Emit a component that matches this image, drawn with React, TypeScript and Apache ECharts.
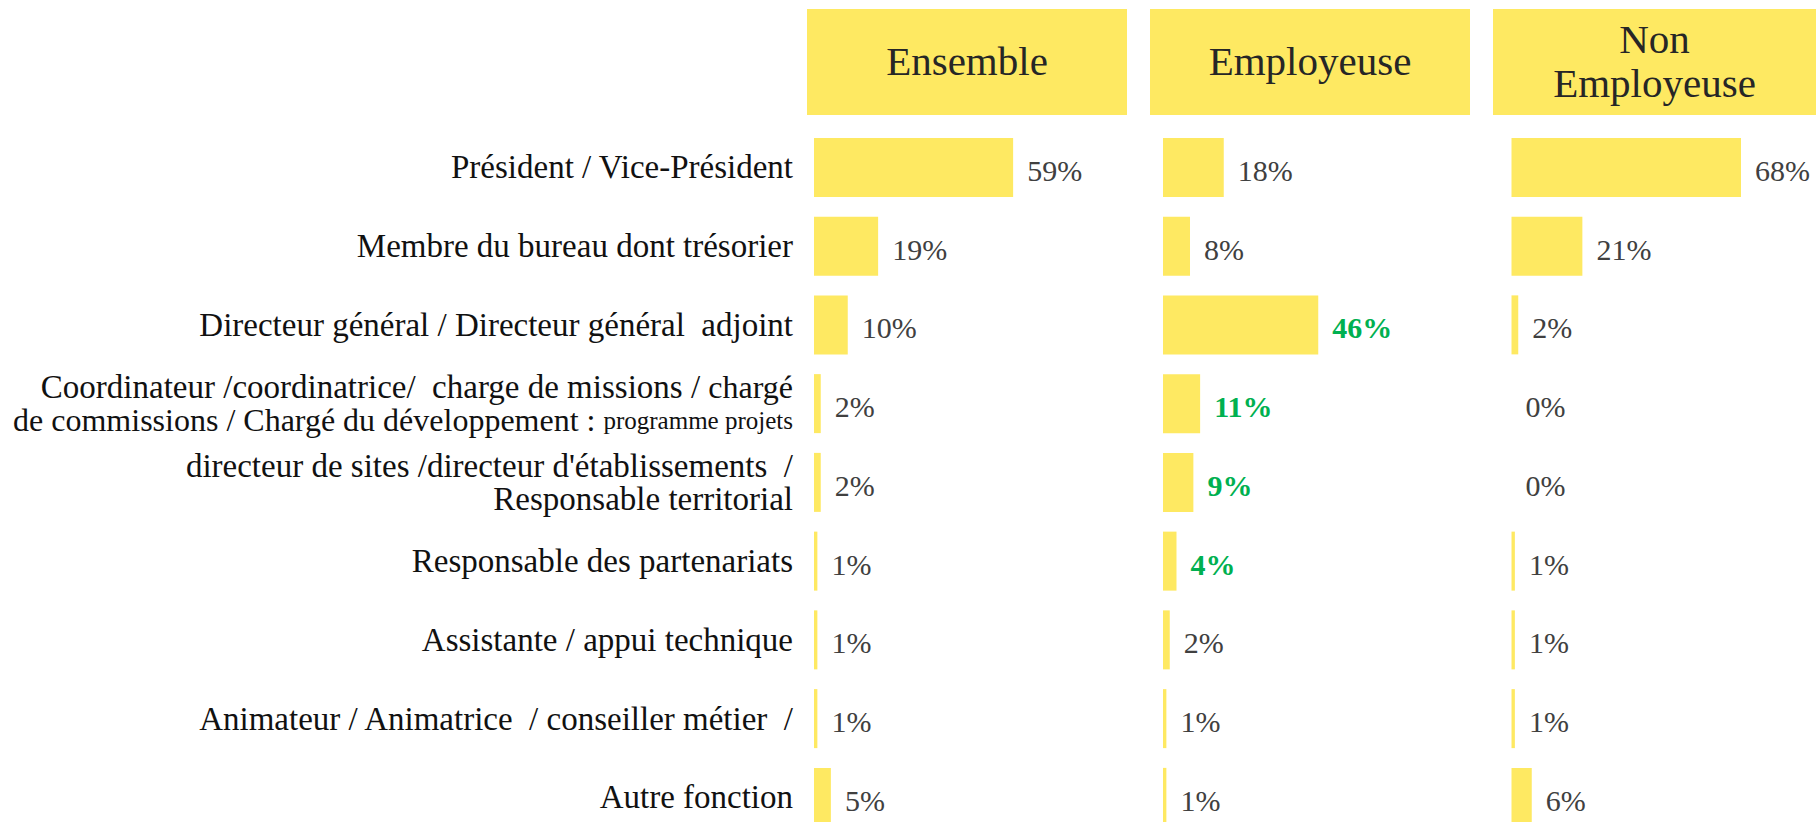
import React, { useEffect, useRef } from "react";
import * as echarts from "echarts";

const categories = [
  "Président / Vice-Président",
  "Membre du bureau dont trésorier",
  "Directeur général / Directeur général  adjoint",
  "Coordinateur /coordinatrice/  charge de missions / chargé\nde commissions / Chargé du développement : programme projets",
  "directeur de sites /directeur d'établissements  /\nResponsable territorial",
  "Responsable des partenariats",
  "Assistante / appui technique",
  "Animateur / Animatrice  / conseiller métier  /",
  "Autre fonction",
];
const groups = ["Ensemble", "Employeuse", "Non\nEmployeuse"];
const ensemble = [59, 19, 10, 2, 2, 1, 1, 1, 5];
const employeuse = [18, 8, 46, 11, 9, 4, 2, 1, 1];
const nonEmployeuse = [68, 21, 2, 0, 0, 1, 1, 1, 6];
const highlightEmployeuse = [false, false, true, true, true, true, false, false, false];

const YELLOW = "#FEE962";
const FONT = "Liberation Serif";

export default function App() {
  const ref = useRef<HTMLDivElement>(null);
  useEffect(() => {
    document.body.style.margin = "0";
    const chart = echarts.init(ref.current!, null, { renderer: "svg" });
    const gridLefts = [814, 1163, 1511.5];
    const boxes = [
      { x: 807, w: 320 },
      { x: 1150, w: 320 },
      { x: 1493, w: 323 },
    ];
    const seriesData = [ensemble, employeuse, nonEmployeuse];
    const top = 128;
    const rowH = 78.75;

    const labelFormatter = (v: string) => {
      if (v.indexOf("chargé\n") >= 0) {
        const [l1, l2] = v.split("\n");
        const a = l1.replace(/chargé$/, "");
        const b = l2.replace(/programme projets$/, "");
        return `{n|${a}}{c|chargé}\n{m|${b}}{s|programme projets}`;
      }
      if (v.indexOf("\n") >= 0) {
        return v
          .split("\n")
          .map((l) => `{n|${l}}`)
          .join("\n");
      }
      return v;
    };

    const tok = (size: number) => ({
      fontFamily: FONT,
      fontSize: size,
      lineHeight: 33,
      color: "#111111",
    });

    chart.setOption({
      animation: false,
      grid: gridLefts.map((l) => ({
        left: l,
        width: 270,
        top,
        height: rowH * categories.length,
        containLabel: false,
        outerBoundsMode: "none",
      })),
      xAxis: gridLefts.map((_, i) => ({
        type: "value",
        gridIndex: i,
        min: 0,
        max: 80,
        show: false,
      })),
      yAxis: gridLefts.map((_, i) => ({
        type: "category",
        gridIndex: i,
        data: categories,
        inverse: true,
        axisLine: { show: false },
        axisTick: { show: false },
        splitLine: { show: false },
        axisLabel: {
          show: i === 0,
          margin: 21,
          fontFamily: FONT,
          fontSize: 33,
          lineHeight: 33,
          color: "#111111",
          formatter: labelFormatter,
          rich: {
            n: tok(33),
            c: tok(32),
            m: tok(32),
            s: tok(25),
          },
        },
      })),
      series: seriesData.map((arr, i) => ({
        type: "bar",
        xAxisIndex: i,
        yAxisIndex: i,
        barWidth: 59,
        itemStyle: { color: YELLOW },
        data: arr.map((v, j) => {
          const hi = i === 1 && highlightEmployeuse[j];
          return {
            value: v,
            label: {
              show: true,
              position: "right",
              distance: 14,
              offset: [0, 3],
              formatter: "{c}%",
              fontFamily: FONT,
              fontSize: 30,
              color: hi ? "#00B050" : "#404040",
              fontWeight: hi ? "bold" : "normal",
            },
          };
        }),
      })),
      graphic: boxes.flatMap((b, i) => [
        {
          type: "rect",
          shape: { x: b.x, y: 9, width: b.w, height: 106 },
          style: { fill: YELLOW },
          silent: true,
        },
        {
          type: "text",
          x: b.x + b.w / 2,
          y: 61,
          style: {
            text: groups[i],
            fontFamily: FONT,
            fontSize: 41,
            lineHeight: 44,
            fill: "#262626",
            textAlign: "center",
            textVerticalAlign: "middle",
          },
          silent: true,
        },
      ]),
    });
    return () => chart.dispose();
  }, []);
  return <div ref={ref} style={{ width: 1816, height: 822 }} />;
}
